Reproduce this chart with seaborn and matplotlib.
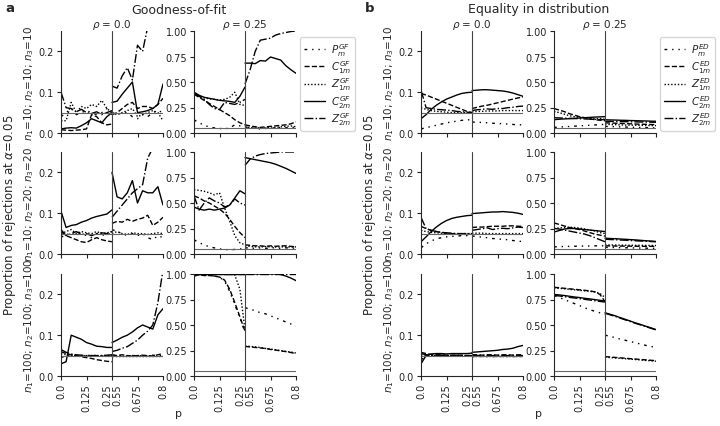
import numpy as np
import pandas as pd
import matplotlib
matplotlib.use("Agg")
import matplotlib.pyplot as plt
import seaborn as sns

# ---------------- data ----------------
P_LOW = [0.0, 0.025, 0.05, 0.075, 0.1, 0.125, 0.15, 0.175, 0.2, 0.225, 0.25]
P_HIGH = [0.55, 0.575, 0.6, 0.625, 0.65, 0.675, 0.7, 0.725, 0.75, 0.775, 0.8]

SERIES = ["P", "C1", "Z1", "C2", "Z2"]
ROW_LABELS = ["$n_1$=10; $n_2$=10; $n_3$=10",
              "$n_1$=10; $n_2$=20; $n_3$=20",
              "$n_1$=100; $n_2$=100; $n_3$=100"]
RHO_TITLES = [r"$\rho$ = 0.0", r"$\rho$ = 0.25"]
PANEL_TITLES = ["Goodness-of-fit", "Equality in distribution"]
PANEL_LETTERS = ["a", "b"]
TAGS = ["GF", "ED"]
X_TICK_LABELS = ["0.0", "0.125", "0.25", "0.55", "0.675", "0.8"]

# Goodness-of-fit, n=10/10/10, rho=0.0 (values: 11 low-p then 11 high-p)
GF_N10_R0_P = [0.04, 0.05, 0.06, 0.045, 0.05, 0.055, 0.05, 0.045, 0.05, 0.06, 0.045,
               0.05, 0.045, 0.05, 0.05, 0.04, 0.035, 0.045, 0.04, 0.05, 0.055, 0.05]
GF_N10_R0_C1 = [0.008, 0.007, 0.006, 0.007, 0.008, 0.010, 0.045, 0.040, 0.025, 0.020, 0.022,
                0.045, 0.050, 0.060, 0.070, 0.075, 0.060, 0.065, 0.065, 0.060, 0.070, 0.085]
GF_N10_R0_Z1 = [0.03, 0.03, 0.075, 0.05, 0.065, 0.06, 0.07, 0.065, 0.08, 0.06, 0.05,
                0.05, 0.045, 0.05, 0.055, 0.06, 0.04, 0.045, 0.05, 0.055, 0.05, 0.03]
GF_N10_R0_C2 = [0.010, 0.012, 0.013, 0.012, 0.018, 0.025, 0.035, 0.030, 0.025, 0.040, 0.050,
                0.075, 0.078, 0.095, 0.110, 0.125, 0.050, 0.052, 0.055, 0.060, 0.070, 0.120]
GF_N10_R0_Z2 = [0.10, 0.062, 0.060, 0.052, 0.058, 0.050, 0.048, 0.052, 0.045, 0.050, 0.055,
                0.115, 0.11, 0.14, 0.16, 0.13, 0.215, 0.20, 0.26, 0.30, 0.33, 0.36]

GF_N10_R25_P = [0.13, 0.10, 0.075, 0.06, 0.05, 0.045, 0.04, 0.05, 0.08, 0.07, 0.06,
                0.06, 0.05, 0.045, 0.04, 0.045, 0.05, 0.05, 0.055, 0.05, 0.06, 0.05]
GF_N10_R25_C1 = [0.38, 0.35, 0.32, 0.29, 0.26, 0.23, 0.20, 0.17, 0.13, 0.10, 0.08,
                 0.08, 0.07, 0.06, 0.055, 0.06, 0.065, 0.07, 0.075, 0.08, 0.09, 0.11]
GF_N10_R25_Z1 = [0.38, 0.36, 0.345, 0.335, 0.33, 0.325, 0.33, 0.35, 0.40, 0.28, 0.27,
                 0.07, 0.05, 0.06, 0.045, 0.05, 0.06, 0.055, 0.06, 0.065, 0.07, 0.06]
GF_N10_R25_C2 = [0.40, 0.37, 0.35, 0.34, 0.33, 0.32, 0.315, 0.31, 0.30, 0.36, 0.45,
                 0.685, 0.685, 0.68, 0.71, 0.705, 0.745, 0.73, 0.715, 0.66, 0.62, 0.585]
GF_N10_R25_Z2 = [0.39, 0.36, 0.33, 0.28, 0.24, 0.23, 0.30, 0.29, 0.28, 0.30, 0.33,
                 0.48, 0.62, 0.80, 0.91, 0.92, 0.93, 0.96, 0.975, 0.985, 0.995, 1.0]

GF_N20_R0_P = [0.04, 0.05, 0.045, 0.055, 0.05, 0.045, 0.04, 0.05, 0.045, 0.05, 0.048,
               0.06, 0.055, 0.05, 0.045, 0.05, 0.045, 0.05, 0.04, 0.035, 0.045, 0.04]
GF_N20_R0_C1 = [0.055, 0.045, 0.04, 0.035, 0.030, 0.028, 0.035, 0.040, 0.035, 0.032, 0.030,
                0.075, 0.080, 0.078, 0.085, 0.080, 0.085, 0.088, 0.095, 0.070, 0.078, 0.090]
GF_N20_R0_Z1 = [0.05, 0.055, 0.06, 0.05, 0.055, 0.052, 0.05, 0.055, 0.05, 0.052, 0.055,
                0.05, 0.055, 0.05, 0.048, 0.052, 0.05, 0.05, 0.048, 0.05, 0.052, 0.05]
GF_N20_R0_C2 = [0.105, 0.065, 0.07, 0.072, 0.078, 0.082, 0.088, 0.092, 0.095, 0.098, 0.108,
                0.200, 0.140, 0.135, 0.150, 0.180, 0.125, 0.155, 0.150, 0.150, 0.165, 0.120]
GF_N20_R0_Z2 = [0.06, 0.045, 0.05, 0.055, 0.048, 0.05, 0.045, 0.05, 0.052, 0.05, 0.055,
                0.090, 0.105, 0.120, 0.135, 0.150, 0.160, 0.170, 0.235, 0.26, 0.30, 0.33]

GF_N20_R25_P = [0.14, 0.11, 0.09, 0.07, 0.06, 0.05, 0.045, 0.04, 0.045, 0.05, 0.05,
                0.06, 0.06, 0.055, 0.06, 0.055, 0.06, 0.06, 0.055, 0.06, 0.06, 0.055]
GF_N20_R25_C1 = [0.57, 0.55, 0.52, 0.50, 0.47, 0.44, 0.40, 0.34, 0.27, 0.21, 0.16,
                 0.09, 0.085, 0.08, 0.08, 0.075, 0.08, 0.075, 0.08, 0.08, 0.075, 0.07]
GF_N20_R25_Z1 = [0.63, 0.625, 0.615, 0.60, 0.58, 0.60, 0.45, 0.32, 0.18, 0.11, 0.09,
                 0.08, 0.075, 0.07, 0.07, 0.072, 0.07, 0.068, 0.07, 0.07, 0.068, 0.07]
GF_N20_R25_C2 = [0.46, 0.44, 0.43, 0.44, 0.43, 0.44, 0.45, 0.48, 0.55, 0.62, 0.59,
                 0.945, 0.935, 0.925, 0.915, 0.905, 0.895, 0.88, 0.86, 0.84, 0.815, 0.79]
GF_N20_R25_Z2 = [0.57, 0.43, 0.50, 0.55, 0.52, 0.50, 0.46, 0.48, 0.54, 0.50, 0.48,
                 0.87, 0.93, 0.96, 0.975, 0.985, 0.99, 0.995, 1.0, 1.0, 1.0, 1.0]

GF_N100_R0_P = [0.045, 0.05, 0.052, 0.05, 0.049, 0.05, 0.051, 0.05, 0.049, 0.05, 0.05,
                0.05, 0.051, 0.05, 0.049, 0.05, 0.05, 0.049, 0.05, 0.051, 0.05, 0.05]
GF_N100_R0_C1 = [0.060, 0.055, 0.052, 0.050, 0.047, 0.045, 0.043, 0.040, 0.038, 0.036, 0.035,
                 0.052, 0.050, 0.052, 0.050, 0.049, 0.050, 0.051, 0.050, 0.049, 0.052, 0.055]
GF_N100_R0_Z1 = [0.055, 0.052, 0.05, 0.05, 0.05, 0.05, 0.05, 0.05, 0.05, 0.05, 0.05,
                 0.05, 0.05, 0.05, 0.05, 0.05, 0.05, 0.05, 0.05, 0.05, 0.05, 0.05]
GF_N100_R0_C2 = [0.030, 0.035, 0.100, 0.095, 0.090, 0.082, 0.078, 0.073, 0.072, 0.070, 0.070,
                 0.082, 0.088, 0.095, 0.100, 0.108, 0.118, 0.125, 0.120, 0.115, 0.150, 0.165]
GF_N100_R0_Z2 = [0.065, 0.058, 0.054, 0.052, 0.051, 0.050, 0.050, 0.050, 0.050, 0.051, 0.052,
                 0.060, 0.063, 0.068, 0.072, 0.080, 0.088, 0.100, 0.110, 0.125, 0.180, 0.260]

GF_N100_R25_P = [0.98, 0.99, 0.99, 0.985, 0.98, 0.97, 0.93, 0.83, 0.70, 0.57, 0.43,
                 0.67, 0.655, 0.64, 0.62, 0.61, 0.59, 0.57, 0.55, 0.53, 0.51, 0.49]
GF_N100_R25_C1 = [0.99, 0.99, 0.985, 0.985, 0.98, 0.97, 0.94, 0.85, 0.72, 0.58, 0.44,
                  0.29, 0.285, 0.28, 0.275, 0.27, 0.26, 0.255, 0.245, 0.24, 0.23, 0.22]
GF_N100_R25_Z1 = [1.0, 1.0, 1.0, 1.0, 1.0, 1.0, 1.0, 1.0, 0.99, 0.85, 0.45,
                  0.295, 0.29, 0.285, 0.28, 0.27, 0.265, 0.255, 0.25, 0.24, 0.235, 0.225]
GF_N100_R25_C2 = [1.0, 1.0, 1.0, 1.0, 1.0, 1.0, 1.0, 1.0, 1.0, 1.0, 1.0,
                  1.0, 1.0, 1.0, 1.0, 1.0, 1.0, 1.0, 0.995, 0.98, 0.96, 0.935]
GF_N100_R25_Z2 = [1.0, 1.0, 1.0, 1.0, 1.0, 1.0, 1.0, 1.0, 1.0, 1.0, 1.0,
                  1.0, 1.0, 1.0, 1.0, 1.0, 1.0, 1.0, 1.0, 1.0, 1.0, 1.0]

# Equality in distribution
ED_N10_R0_P = [0.010, 0.013, 0.016, 0.019, 0.022, 0.025, 0.027, 0.029, 0.031, 0.032, 0.033,
               0.027, 0.026, 0.026, 0.025, 0.024, 0.023, 0.023, 0.022, 0.021, 0.020, 0.020]
ED_N10_R0_C1 = [0.097, 0.093, 0.088, 0.083, 0.078, 0.073, 0.068, 0.063, 0.058, 0.053, 0.050,
                0.060, 0.063, 0.066, 0.068, 0.071, 0.074, 0.077, 0.080, 0.083, 0.086, 0.088]
ED_N10_R0_Z1 = [0.062, 0.058, 0.055, 0.053, 0.052, 0.051, 0.050, 0.050, 0.050, 0.050, 0.050,
                0.052, 0.053, 0.053, 0.054, 0.054, 0.054, 0.055, 0.055, 0.055, 0.055, 0.055]
ED_N10_R0_C2 = [0.035, 0.045, 0.058, 0.068, 0.076, 0.083, 0.088, 0.093, 0.097, 0.099, 0.100,
                0.104, 0.105, 0.106, 0.106, 0.105, 0.104, 0.103, 0.101, 0.098, 0.094, 0.090]
ED_N10_R0_Z2 = [0.105, 0.062, 0.060, 0.058, 0.057, 0.056, 0.055, 0.053, 0.052, 0.051, 0.050,
                0.055, 0.057, 0.058, 0.059, 0.058, 0.060, 0.060, 0.062, 0.063, 0.065, 0.066]

ED_N10_R25_P = [0.055, 0.058, 0.061, 0.064, 0.067, 0.07, 0.073, 0.076, 0.079, 0.082, 0.085,
                0.065, 0.063, 0.062, 0.06, 0.058, 0.057, 0.055, 0.054, 0.053, 0.052, 0.05]
ED_N10_R25_C1 = [0.24, 0.225, 0.21, 0.19, 0.175, 0.16, 0.15, 0.14, 0.13, 0.125, 0.12,
                 0.10, 0.098, 0.096, 0.094, 0.092, 0.09, 0.088, 0.086, 0.085, 0.083, 0.082]
ED_N10_R25_Z1 = [0.21, 0.20, 0.185, 0.17, 0.16, 0.155, 0.15, 0.145, 0.14, 0.14, 0.135,
                 0.085, 0.083, 0.082, 0.08, 0.078, 0.077, 0.076, 0.075, 0.074, 0.073, 0.072]
ED_N10_R25_C2 = [0.13, 0.135, 0.138, 0.14, 0.143, 0.147, 0.15, 0.153, 0.156, 0.158, 0.16,
                 0.130, 0.128, 0.127, 0.125, 0.124, 0.122, 0.121, 0.119, 0.118, 0.116, 0.115]
ED_N10_R25_Z2 = [0.15, 0.148, 0.146, 0.144, 0.142, 0.14, 0.138, 0.136, 0.134, 0.132, 0.13,
                 0.115, 0.114, 0.113, 0.112, 0.111, 0.11, 0.109, 0.108, 0.107, 0.106, 0.105]

ED_N20_R0_P = [0.015, 0.025, 0.032, 0.037, 0.040, 0.042, 0.043, 0.044, 0.045, 0.045, 0.045,
               0.044, 0.043, 0.041, 0.040, 0.038, 0.037, 0.036, 0.035, 0.033, 0.032, 0.030]
ED_N20_R0_C1 = [0.068, 0.062, 0.058, 0.055, 0.053, 0.051, 0.050, 0.049, 0.048, 0.048, 0.048,
                0.065, 0.066, 0.066, 0.067, 0.068, 0.068, 0.068, 0.069, 0.069, 0.068, 0.068]
ED_N20_R0_Z1 = [0.058, 0.055, 0.053, 0.052, 0.051, 0.05, 0.05, 0.05, 0.05, 0.05, 0.05,
                0.051, 0.051, 0.051, 0.05, 0.05, 0.05, 0.05, 0.05, 0.05, 0.05, 0.05]
ED_N20_R0_C2 = [0.030, 0.042, 0.055, 0.066, 0.075, 0.082, 0.087, 0.090, 0.092, 0.094, 0.095,
                0.099, 0.100, 0.101, 0.102, 0.103, 0.103, 0.104, 0.103, 0.102, 0.100, 0.097]
ED_N20_R0_Z2 = [0.090, 0.062, 0.058, 0.055, 0.053, 0.052, 0.051, 0.050, 0.050, 0.050, 0.050,
                0.058, 0.060, 0.062, 0.064, 0.060, 0.062, 0.063, 0.062, 0.064, 0.066, 0.065]

ED_N20_R25_P = [0.07, 0.072, 0.074, 0.075, 0.076, 0.077, 0.078, 0.079, 0.08, 0.08, 0.08,
                0.065, 0.064, 0.063, 0.062, 0.061, 0.06, 0.059, 0.058, 0.057, 0.056, 0.055]
ED_N20_R25_C1 = [0.305, 0.29, 0.275, 0.26, 0.25, 0.24, 0.225, 0.21, 0.195, 0.185, 0.175,
                 0.08, 0.079, 0.078, 0.078, 0.077, 0.077, 0.076, 0.076, 0.075, 0.075, 0.075]
ED_N20_R25_Z1 = [0.25, 0.255, 0.26, 0.262, 0.26, 0.255, 0.245, 0.235, 0.225, 0.21, 0.20,
                 0.09, 0.089, 0.088, 0.087, 0.086, 0.086, 0.085, 0.085, 0.084, 0.084, 0.083]
ED_N20_R25_C2 = [0.215, 0.23, 0.245, 0.25, 0.25, 0.245, 0.24, 0.235, 0.23, 0.225, 0.22,
                 0.155, 0.152, 0.150, 0.147, 0.144, 0.141, 0.138, 0.134, 0.130, 0.127, 0.123]
ED_N20_R25_Z2 = [0.25, 0.245, 0.235, 0.225, 0.215, 0.205, 0.195, 0.18, 0.16, 0.14, 0.12,
                 0.145, 0.142, 0.14, 0.137, 0.135, 0.132, 0.13, 0.127, 0.125, 0.122, 0.12]

ED_N100_R0_P = [0.04, 0.048, 0.05, 0.05, 0.05, 0.05, 0.05, 0.05, 0.05, 0.05, 0.05,
                0.05, 0.05, 0.05, 0.05, 0.05, 0.05, 0.05, 0.05, 0.05, 0.05, 0.05]
ED_N100_R0_C1 = [0.058, 0.055, 0.053, 0.052, 0.052, 0.051, 0.051, 0.051, 0.051, 0.05, 0.05,
                 0.052, 0.052, 0.051, 0.052, 0.052, 0.051, 0.052, 0.052, 0.051, 0.052, 0.052]
ED_N100_R0_Z1 = [0.052, 0.051, 0.05, 0.05, 0.05, 0.05, 0.05, 0.05, 0.05, 0.05, 0.05,
                 0.05, 0.05, 0.05, 0.05, 0.05, 0.05, 0.05, 0.05, 0.05, 0.05, 0.05]
ED_N100_R0_C2 = [0.030, 0.050, 0.054, 0.055, 0.055, 0.054, 0.055, 0.055, 0.055, 0.055, 0.056,
                 0.058, 0.059, 0.06, 0.061, 0.062, 0.063, 0.065, 0.066, 0.068, 0.072, 0.075]
ED_N100_R0_Z2 = [0.055, 0.052, 0.051, 0.051, 0.051, 0.05, 0.05, 0.051, 0.05, 0.05, 0.05,
                 0.051, 0.05, 0.051, 0.05, 0.05, 0.051, 0.05, 0.05, 0.051, 0.05, 0.05]

ED_N100_R25_P = [0.79, 0.77, 0.75, 0.73, 0.71, 0.69, 0.67, 0.65, 0.635, 0.62, 0.605,
                 0.40, 0.39, 0.375, 0.362, 0.35, 0.338, 0.325, 0.313, 0.30, 0.29, 0.28]
ED_N100_R25_C1 = [0.87, 0.865, 0.86, 0.855, 0.85, 0.845, 0.84, 0.835, 0.825, 0.80, 0.73,
                  0.19, 0.186, 0.182, 0.178, 0.174, 0.170, 0.166, 0.162, 0.158, 0.154, 0.15]
ED_N100_R25_Z1 = [0.86, 0.86, 0.855, 0.85, 0.845, 0.84, 0.835, 0.83, 0.825, 0.81, 0.77,
                  0.185, 0.181, 0.177, 0.173, 0.169, 0.165, 0.161, 0.157, 0.153, 0.149, 0.145]
ED_N100_R25_C2 = [0.80, 0.795, 0.789, 0.782, 0.775, 0.769, 0.762, 0.756, 0.749, 0.742, 0.735,
                  0.62, 0.605, 0.59, 0.572, 0.555, 0.538, 0.52, 0.505, 0.488, 0.472, 0.455]
ED_N100_R25_Z2 = [0.79, 0.785, 0.778, 0.771, 0.765, 0.758, 0.752, 0.745, 0.738, 0.731, 0.725,
                  0.615, 0.6, 0.584, 0.567, 0.55, 0.533, 0.516, 0.5, 0.484, 0.468, 0.452]

# ---------------- style ----------------
sns.set_theme(style="ticks")
plt.rcParams["font.family"] = ["DejaVu Sans"]
plt.rcParams["axes.linewidth"] = 0.8
plt.rcParams["xtick.major.width"] = 0.8
plt.rcParams["ytick.major.width"] = 0.8
plt.rcParams["xtick.major.size"] = 3
plt.rcParams["ytick.major.size"] = 3

LINESTYLES = {"P": (0, (2, 3.5, 1, 3.5, 1, 3.5)), "C1": (0, (3.7, 1.6)),
              "Z1": (0, (1, 1.4)), "C2": "-", "Z2": (0, (6.4, 1.6, 1, 1.6))}

fig = plt.figure(figsize=(7.2, 4.27), dpi=100)
W, H = 720.0, 427.0
col_left = [[61, 194], [421, 554]]
row_top = [32, 153, 275]
AX_W, AX_H = 102, 102

def to_pos(p_list, low):
    p = np.asarray(p_list, dtype=float)
    return p * 2.0 if low else 0.5 + (p - 0.55) * 2.0

rows = ["N10", "N20", "N100"]
rhos = ["R0", "R25"]
g = globals()

for pi, tag in enumerate(TAGS):
    for ri, rk in enumerate(rows):
        for ci, ck in enumerate(rhos):
            left = col_left[pi][ci]
            top = row_top[ri]
            ax = fig.add_axes([left / W, 1 - (top + AX_H) / H, AX_W / W, AX_H / H])
            ymax = 0.25 if ci == 0 else 1.0
            handles = []
            for s in SERIES:
                vals = g[f"{tag}_{rk}_{ck}_{s}"]
                lo = pd.DataFrame({"pos": to_pos(P_LOW, True), "v": vals[:11]})
                hi = pd.DataFrame({"pos": to_pos(P_HIGH, False), "v": vals[11:]})
                sns.lineplot(data=lo, x="pos", y="v", ax=ax, color="black",
                             linewidth=1.0, linestyle=LINESTYLES[s], estimator=None)
                handles.append(ax.lines[-1])
                sns.lineplot(data=hi, x="pos", y="v", ax=ax, color="black",
                             linewidth=1.0, linestyle=LINESTYLES[s], estimator=None)
            ax.axvline(0.5, color="#444444", lw=0.8)
            ax.axhline(0.05, color="#666666", lw=0.8)
            ax.set_xlim(0, 1)
            ax.set_ylim(0, ymax)
            sns.despine(ax=ax)
            ax.set_xlabel("")
            ax.set_ylabel("")
            if ci == 0:
                ax.set_yticks([0, 0.1, 0.2])
                ax.set_yticklabels(["0.0", "0.1", "0.2"])
                ax.set_ylabel(ROW_LABELS[ri], fontsize=7.5, labelpad=2)
            else:
                ax.set_yticks([0, 0.25, 0.5, 0.75, 1.0])
                ax.set_yticklabels(["0.00", "0.25", "0.50", "0.75", "1.00"])
            ax.tick_params(axis="both", labelsize=7, pad=2, colors="#222222")
            ax.set_xticks([0, 0.25, 0.5, 0.75, 1.0])
            if ri == 2:
                ax.set_xticklabels([X_TICK_LABELS[0], X_TICK_LABELS[1], "",
                                    X_TICK_LABELS[4], X_TICK_LABELS[5]], rotation=90)
                ax.set_xticks([0.45, 0.55], minor=True)
                ax.set_xticklabels([X_TICK_LABELS[2], X_TICK_LABELS[3]], minor=True,
                                   rotation=90)
                ax.tick_params(axis="x", which="minor", length=0, labelsize=7, pad=5,
                               colors="#222222")
            else:
                ax.set_xticklabels([])
            if ri == 0:
                ax.set_title(RHO_TITLES[ci], fontsize=7.5, pad=3)
            if ri == 0 and ci == 1:
                labels = [f"$P_{{m}}^{{{tag}}}$", f"$C_{{1m}}^{{{tag}}}$",
                          f"$Z_{{1m}}^{{{tag}}}$", f"$C_{{2m}}^{{{tag}}}$",
                          f"$Z_{{2m}}^{{{tag}}}$"]
                ax.legend(handles, labels, loc="upper left", bbox_to_anchor=(1.02, 0.96),
                          fontsize=7.5, frameon=True, handlelength=2.0,
                          borderpad=0.35, labelspacing=0.05, handletextpad=0.6,
                          borderaxespad=0.2)

    cx = (col_left[pi][0] + col_left[pi][1] + AX_W) / 2.0 / W
    fig.text(cx, 1 - 10 / H, PANEL_TITLES[pi], ha="center", va="center", fontsize=9)
    fig.text((col_left[pi][0] - 56) / W, 1 - 8 / H, PANEL_LETTERS[pi], ha="left",
             va="center", fontsize=9.5, fontweight="bold")
    fig.text((col_left[pi][0] - 51) / W, 1 - 215 / H,
             r"Proportion of rejections at $\alpha$=0.05", rotation=90,
             ha="center", va="center", fontsize=8.5)
    fig.text(cx, 1 - 414 / H, "p", ha="center", va="center", fontsize=8)

fig.savefig("out.png", dpi=100)
